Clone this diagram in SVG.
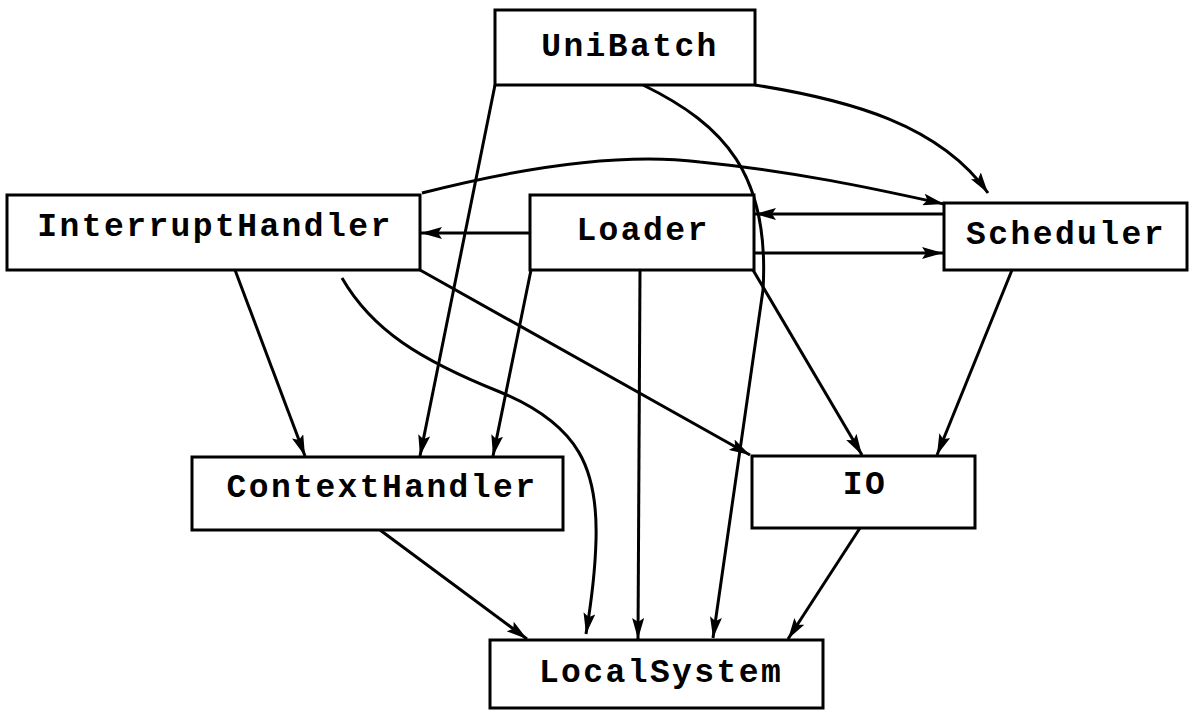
<svg xmlns="http://www.w3.org/2000/svg" width="1192" height="716" viewBox="0 0 1192 716">
  <style>
    .box { fill: #ffffff; stroke: #000000; stroke-width: 3; }
    .label { font-family: "Liberation Mono", "DejaVu Sans Mono", monospace; font-weight: bold; font-size: 33px; letter-spacing: 2.4px; fill: #000000; text-anchor: middle; }
    .edge { fill: none; stroke: #000000; stroke-width: 3; marker-end: url(#arrow); }
  </style>
  <defs>
    <marker id="arrow" markerUnits="userSpaceOnUse" markerWidth="22" markerHeight="12" refX="21" refY="6" orient="auto">
      <path d="M0,0 L21,6 L0,12 L4,6 Z" fill="#000000"/>
    </marker>
  </defs>
  <rect width="1192" height="716" fill="#ffffff"/>

  <!-- connectors -->
  <g id="connectors">
    <path class="edge" d="M495,85 L420,456"/>
    <path class="edge" d="M643,85 C725,125 770,175 763,290 L713,638"/>
    <path class="edge" d="M755,85 C850,100 940,125 988,193"/>
    <path class="edge" d="M422,193 C520,168 620,152 700,162 C800,172 880,190 944,204"/>
    <path class="edge" d="M530,233 L421,233"/>
    <path class="edge" d="M944,214 L755,214"/>
    <path class="edge" d="M753,253 L943,253"/>
    <path class="edge" d="M235,270 L305,456"/>
    <path class="edge" d="M342,278 C372,330 420,360 500,392 C580,425 598,470 596,540 C595,580 590,610 586,634"/>
    <path class="edge" d="M420,270 L750,455"/>
    <path class="edge" d="M531,270 L493,456"/>
    <path class="edge" d="M640,270 L638,639"/>
    <path class="edge" d="M753,270 L862,455"/>
    <path class="edge" d="M1012,270 L937,455"/>
    <path class="edge" d="M380,530 L527,639"/>
    <path class="edge" d="M860,528 L788,639"/>
  </g>

  <g id="UniBatch">
    <rect class="box" x="495" y="10" width="260" height="75"/>
    <text class="label" x="630" y="56">UniBatch</text>
  </g>
  <g id="InterruptHandler">
    <rect class="box" x="7" y="195" width="413" height="75"/>
    <text class="label" x="215" y="236">InterruptHandler</text>
  </g>
  <g id="Loader">
    <rect class="box" x="530" y="195" width="224" height="75"/>
    <text class="label" x="643" y="240">Loader</text>
  </g>
  <g id="Scheduler">
    <rect class="box" x="944" y="203" width="243" height="67"/>
    <text class="label" x="1066" y="244">Scheduler</text>
  </g>
  <g id="ContextHandler">
    <rect class="box" x="192" y="457" width="371" height="73"/>
    <text class="label" x="382" y="497">ContextHandler</text>
  </g>
  <g id="IO">
    <rect class="box" x="752" y="456" width="223" height="72"/>
    <text class="label" x="865" y="494">IO</text>
  </g>
  <g id="LocalSystem">
    <rect class="box" x="490" y="640" width="333" height="68"/>
    <text class="label" x="661" y="682">LocalSystem</text>
  </g>
</svg>
